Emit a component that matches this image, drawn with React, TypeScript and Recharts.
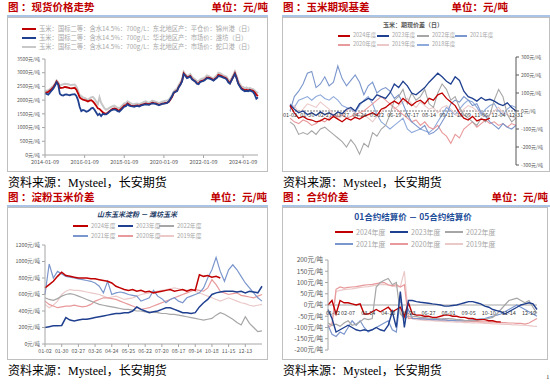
import { LineChart, Line, XAxis, YAxis, ReferenceLine } from "recharts";

const CJK = '"Noto Sans CJK SC", sans-serif';
const SERIF = '"Liberation Serif", "Noto Sans CJK SC", serif';
const HEAD_RED = "#c00000";

const YEAR_COLORS: Record<string, string> = {
  y2024: "#c00000",
  y2023: "#1f3f8f",
  y2022: "#a6a6a6",
  y2021: "#7b96cc",
  y2020: "#e8999b",
  y2019: "#ebc9c9",
  y2018: "#8ea9db",
};

// 现货价格走势, monthly from 2014-01 to 2024-10
const jinzhou = [
  2270, 2280, 2300, 2350, 2400, 2470, 2560, 2680, 2600, 2440, 2450, 2460,
  2480, 2470, 2460, 2440, 2430, 2440, 2450, 2380, 2250, 2100, 2050, 2020,
  2000, 1980, 1950, 1980, 2000, 1950, 1880, 1800, 1700, 1680, 1620, 1560,
  1520, 1500, 1540, 1600, 1640, 1680, 1700, 1680, 1640, 1620, 1680, 1740,
  1800, 1820, 1880, 1840, 1800, 1790, 1780, 1800, 1810, 1790, 1820, 1840,
  1860, 1880, 1860, 1850, 1880, 1910, 1890, 1880, 1860, 1830, 1850, 1870,
  1880, 1900, 1910, 1940, 2020, 2120, 2260, 2320, 2350, 2480, 2580, 2700,
  2980, 2900, 2830, 2850, 2880, 2780, 2730, 2680, 2620, 2600, 2680, 2700,
  2720, 2760, 2820, 2820, 2800, 2770, 2730, 2780, 2830, 2920, 2900, 2880,
  2840, 2820, 2780, 2680, 2620, 2740, 2860, 2980, 2820, 2620, 2520, 2430,
  2400, 2360, 2380, 2350, 2380, 2360, 2340, 2280, 2200, 2150,
];
const weifang = [
  2250, 2230, 2200, 2270, 2350, 2420, 2520, 2650, 2560, 2230, 2180, 2170,
  2200, 2210, 2190, 2180, 2200, 2210, 2220, 2150, 2000, 1750, 1600, 1640,
  1620, 1580, 1600, 1640, 1700, 1720, 1650, 1550, 1450, 1500, 1420, 1500,
  1480, 1480, 1520, 1580, 1620, 1650, 1660, 1640, 1600, 1580, 1640, 1700,
  1760, 1780, 1850, 1800, 1780, 1770, 1760, 1780, 1790, 1770, 1800, 1820,
  1840, 1850, 1840, 1830, 1860, 1880, 1870, 1860, 1840, 1810, 1840, 1860,
  1870, 1880, 1900, 1950, 2050, 2150, 2280, 2300, 2330, 2470, 2560, 2680,
  2950, 2880, 2800, 2830, 2860, 2760, 2720, 2680, 2600, 2580, 2660, 2680,
  2700, 2740, 2800, 2790, 2780, 2750, 2710, 2760, 2800, 2880, 2870, 2850,
  2820, 2800, 2760, 2650, 2600, 2720, 2840, 2950, 2800, 2600, 2500, 2400,
  2360, 2320, 2340, 2320, 2360, 2330, 2300, 2200, 2050, 2100,
];
const shekou = [
  2330, 2340, 2360, 2400, 2460, 2520, 2600, 2720, 2660, 2520, 2560, 2580,
  2600, 2590, 2580, 2560, 2550, 2560, 2570, 2500, 2350, 2180, 2150, 2100,
  2080, 2050, 2000, 2060, 2100, 2120, 2050, 1950, 1850, 2100, 1900, 1800,
  1700, 1650, 1680, 1720, 1750, 1780, 1800, 1760, 1720, 1700, 1760, 1820,
  1880, 1900, 1960, 1920, 1880, 1860, 1850, 1870, 1880, 1850, 1880, 1900,
  1940, 1960, 1920, 1900, 1940, 1980, 1960, 1940, 1920, 1900, 1920, 1940,
  1960, 1980, 1990, 2020, 2100, 2200, 2320, 2380, 2420, 2550, 2650, 2750,
  3030, 2950, 2880, 2900, 2950, 2850, 2800, 2750, 2700, 2680, 2750, 2780,
  2800, 2830, 2900, 2880, 2850, 2820, 2780, 2850, 2900, 3000, 2980, 2950,
  2900, 2880, 2850, 2750, 2700, 2800, 2920, 3050, 2900, 2700, 2600, 2500,
  2480, 2430, 2460, 2420, 2450, 2420, 2400, 2350, 2300, 2250,
];
const spotTicks = [0, 24, 48, 72, 96, 120];
const spotTickLabels = ["2014-01-09", "2016-01-09", "2018-01-09", "2020-01-09", "2022-01-09", "2024-01-09"];
const spotYTicks = [0, 500, 1000, 1500, 2000, 2500, 3000, 3500];
const spotLegend = [
  { key: "jz", color: "#c00000", label: "玉米：国标二等：含水14.5%：700g/L：东北地区产：平仓价：锦州港（日）" },
  { key: "wf", color: "#1f3f8f", label: "玉米：国标二等：含水14.5%：700g/L：华北地区产：市场价：潍坊（日）" },
  { key: "sk", color: "#c8c8c8", label: "玉米：国标二等：含水14.5%：700g/L：东北地区产：市场价：蛇口港（日）" },
];

// 玉米期现基差, weekly
const basis2024 = [30, -10, -40, -30, -45, -50, -60, -55, -40, -50, -30, -45, -60, -40, -50, -35, -45, -30, -20, -10, -25, 10, 20, 40, 55, 40, 70, 50, 30, 50, 60, 40, 70, 60, 90, 100, 70, 50, 30, -10, -40, -50, -30, -55, -45, -50, -40];
const basis2023 = [35, 10, -10, 0, -20, -10, -25, -5, -20, -10, -25, -5, -15, 10, 20, 0, 40, 55, 70, 60, 90, 80, 70, 100, 150, 130, 165, 140, 100, 90, 110, 130, 160, 185, 210, 190, 165, 150, 190, 170, 110, 80, 70, 55, 75, 60, 65, 55, 40, 30, 45, 20, 0];
const basis2022 = [-60, -80, -130, -120, -130, -110, -130, -100, -90, -110, -130, -150, -170, -200, -160, -190, -240, -180, -200, -120, -140, -100, -80, -20, 60, 80, 120, 40, 100, 60, 80, 120, 40, 20, 100, 150, 120, 60, 80, 20, -20, -40, -60, -80, -40, -60, -20, 60, 120, 80, -20, -60, -40];
const basis2021 = [0, 80, 110, 150, 210, 220, 130, 150, 190, 140, 160, 250, 180, 140, 170, 200, 160, 90, 140, 160, 100, 120, 130, 110, 70, 90, 40, -20, -60, -80, -100, -80, -130, -120, -100, -60, -20, 40, 60, 50, 80, 60, 30, 40, -10, -30, -60, -80, -100, -70, -90, -100, -80];
const basis2020 = [-40, -60, -70, -50, -60, -80, -70, -50, -60, -40, -20, -30, -20, -40, -30, -20, -10, 0, 20, 40, 60, 80, 60, 40, 20, 0, -20, -40, -60, -50, -80, -60, -90, -100, -80, -120, -140, -180, -130, -150, -100, -80, -60, -90, -70, -50, -70, -60, -80, -70, -90, -70, -80];
const basis2019 = [20, 30, -10, 10, 40, 30, 20, 50, 30, 10, -20, -40, -30, 0, 20, -10, -30, -20, -40, -60, -30, -10, 20, 40, 10, 30, 50, 70, 40, 20, 50, 30, 10, 20, -10, 20, 30, 10, -20, -30, 10, 30, 20, 0, -10, -30, -20, 0, 20, -10, -20, -30, -40];
const basis2018 = [40, 20, 60, 70, 80, 60, 80, 90, 70, 60, 80, 60, 30, 20, 10, -10, 30, 60, 80, 40, -20, -60, -80, -100, -80, -60, -40, -100, -120, -110, -100, -110, -120, -100, -60, -20, 20, 0, -20, 10, 40, 60, 50, 20, -20, 10, 30, 40, 0, -20, 10, 30, 20];
const basisTicks = [0, 4, 8, 12, 16, 20, 24, 28, 32, 36, 40, 44, 48, 52];
const basisTickLabels = ["01-02", "01-30", "02-27", "03-27", "04-24", "05-22", "06-19", "07-17", "08-14", "09-11", "10-09", "11-06", "12-04", "12-31"];
const basisYTicks = [-300, -200, -100, 0, 100, 200, 300];

// 淀粉玉米价差, weekly
const starch2024 = [680, 720, 760, 820, 870, 830, 820, 810, 800, 800, 800, 790, 790, 780, 770, 760, 740, 700, 680, 660, 650, 660, 640, 650, 630, 640, 620, 630, 640, 650, 660, 640, 650, 660, 640, 660, 650, 840, 820, 830, 810, 820, 800];
const starch2023 = [200, 210, 220, 220, 225, 320, 290, 280, 290, 300, 300, 310, 320, 330, 340, 350, 360, 370, 370, 380, 380, 400, 450, 420, 400, 380, 390, 400, 420, 440, 440, 420, 400, 380, 380, 370, 380, 450, 500, 540, 600, 620, 630, 640, 640, 640, 630, 640, 620, 640, 630, 620, 700];
const starch2022 = [560, 540, 530, 550, 580, 600, 610, 600, 580, 560, 540, 520, 500, 480, 470, 460, 450, 440, 430, 420, 420, 410, 400, 400, 390, 390, 385, 380, 370, 370, 360, 360, 350, 340, 330, 320, 310, 300, 290, 300, 310, 350, 380, 360, 330, 300, 260, 230, 330, 250, 200, 150, 160];
const starch2021 = [600, 970, 800, 880, 850, 820, 810, 800, 790, 780, 770, 760, 740, 700, 620, 760, 600, 620, 630, 620, 600, 590, 580, 520, 540, 560, 650, 580, 550, 500, 540, 560, 520, 500, 560, 580, 600, 620, 680, 800, 900, 1050, 880, 760, 900, 960, 900, 820, 740, 680, 620, 560, 520];
const starch2020 = [520, 480, 460, 440, 450, 460, 460, 470, 460, 450, 460, 480, 520, 540, 560, 560, 550, 540, 520, 500, 480, 460, 440, 420, 430, 440, 460, 480, 500, 520, 540, 560, 580, 600, 620, 640, 660, 650, 640, 680, 780, 720, 640, 620, 600, 610, 620, 590, 580, 570, 560, 580, 600];
const starch2019 = [480, 440, 470, 520, 600, 640, 660, 650, 650, 640, 630, 620, 610, 600, 580, 560, 570, 580, 560, 540, 550, 560, 580, 600, 610, 620, 630, 640, 650, 660, 670, 680, 670, 660, 650, 660, 640, 620, 600, 580, 560, 540, 520, 540, 560, 540, 520, 500, 490, 470, 460, 470, 480];
const starchTicks = [0, 4, 8, 12, 16, 20, 24, 28, 32, 36, 40, 44, 48];
const starchTickLabels = ["01-02", "01-30", "02-27", "03-26", "04-24", "05-25", "06-22", "07-20", "08-17", "09-14", "10-18", "11-15", "12-13"];
const starchYTicks = [0, 200, 400, 600, 800, 1000, 1200];

// 01合约 - 05合约, weekly
const spread2024 = [0, 20, -40, 20, 10, 10, 5, 0, 5, -40, -40, -30, -20, -30, -20, -10, -30, -20, -10, -50, 10, -40, -45, -45, -50, -50, -55, -55, -50, -45, -45, -50, -50, -55, -55, -60, -60, -65, -65, -65, -70, -70, -75, -75];
const spread2023 = [-20, -60, -120, -110, -100, -90, -100, -110, -115, -110, -115, -110, -100, -110, -115, -90, -30, -100, 60, -100, 20, 20, 15, 12, 10, 8, 5, 3, 0, -5, -5, -2, 0, 5, 10, 15, 15, 10, 5, -5, -10, -20, -25, -30, -40, -30, -20, -10, 0, 5, 10, 5, -20];
const spread2022 = [-80, -90, -85, -95, -80, -70, -90, -85, -75, -60, -65, -60, 80, 100, 110, 118, 90, 100, -40, -60, -50, -50, -52, -55, -55, -58, -60, -60, -62, -60, -60, -62, -65, -65, -68, -70, -70, -68, -65, -62, -60, -55, -40, -20, 0, 20, 25, 30, 20, 10, 20, -10, -37];
const spread2021 = [-90, -130, -140, -120, -130, -100, -70, -90, -70, -100, -120, -110, -100, -90, -80, -70, -110, -120, 30, -60, -20, -60, -60, -62, -62, -64, -65, -65, -66, -66, -68, -68, -70, -70, -70, -68, -66, -64, -62, -60, -55, -50, -45, -40, -30, -20, -10, 0, -10, -20, -30, -40, -50];
const spread2020 = [-100, -90, 70, 80, 75, 78, 80, 82, 85, 88, 90, 92, 95, 98, 100, 90, 85, 90, 80, 90, -60, -58, -60, -62, -62, -64, -65, -65, -66, -66, -68, -68, -70, -70, -72, -72, -74, -74, -75, -75, -75, -76, -76, -78, -78, -80, -80, -82, -82, -85, -80, -70, -60];
const spread2019 = [-95, -80, 60, 65, 68, 70, 72, 75, 78, 80, 82, 85, 88, 90, 92, 88, 85, 80, 82, 150, -50, -62, -65, -66, -68, -70, -70, -72, -72, -74, -74, -75, -76, -76, -78, -78, -80, -80, -80, -82, -82, -84, -84, -85, -86, -86, -88, -88, -90, -90, -92, -94, -95];
const spreadTicks = [0, 5, 10, 15, 20, 25, 30, 35, 40, 45, 50];
const spreadTickLabels = ["01-02", "02-07", "03-14", "04-18", "05-23", "06-27", "08-01", "09-05", "10-10", "11-14", "12-19"];
const spreadYTicks = [-200, -150, -100, -50, 0, 50, 100, 150, 200];

function buildRows(series: Record<string, number[]>, xKey: string) {
  const n = Math.max(...Object.values(series).map((s) => s.length));
  return Array.from({ length: n }, (_, i) => {
    const r: Record<string, number> = { [xKey]: i };
    for (const k in series) if (i < series[k].length) r[k] = series[k][i];
    return r;
  });
}

const spotRows = buildRows({ jz: jinzhou, wf: weifang, sk: shekou }, "i");
const basisRows = buildRows(
  { y2024: basis2024, y2023: basis2023, y2022: basis2022, y2021: basis2021, y2020: basis2020, y2019: basis2019, y2018: basis2018 },
  "w"
);
const starchRows = buildRows(
  { y2024: starch2024, y2023: starch2023, y2022: starch2022, y2021: starch2021, y2020: starch2020, y2019: starch2019 },
  "w"
);
const spreadRows = buildRows(
  { y2024: spread2024, y2023: spread2023, y2022: spread2022, y2021: spread2021, y2020: spread2020, y2019: spread2019 },
  "w"
);

const unit = (v: number) => `${v}元/吨`;

// date labels drawn along the zero line (axis crosses at 0); first one nudged off the y axis labels
function zeroTick(ticks: number[], labels: string[], baseline: number, size: number, firstNudge = 0) {
  return (p: any) => {
    const v = p.payload?.value;
    const i = ticks.indexOf(v);
    return (
      <text x={p.x + (i === 0 ? firstNudge : 0)} y={baseline} textAnchor="middle" fontSize={size} fill="#404040" fontFamily={CJK}>
        {i >= 0 ? labels[i] : ""}
      </text>
    );
  };
}

function Frame({ x, y, boxW, boxH, lineW, title, unitRight }: {
  x: number; y: number; boxW: number; boxH: number; lineW: number; title: string; unitRight: number;
}) {
  const head = { position: "absolute" as const, top: y, fontSize: 10.5, lineHeight: "14px", fontWeight: 700, color: HEAD_RED, fontFamily: CJK, whiteSpace: "nowrap" as const };
  return (
    <>
      <div style={{ ...head, left: x + 1 }}>{title}</div>
      <div style={{ ...head, left: unitRight - 80, width: 80, textAlign: "right" }}>单位：元/吨</div>
      <div style={{ position: "absolute", left: x, top: y + 15, width: lineW, height: 2, background: "#a9c4e4" }} />
      <div style={{ position: "absolute", left: x, top: y + 17, width: boxW, height: boxH, border: "1px solid #bfbfbf", boxSizing: "border-box" }} />
      <div style={{ position: "absolute", left: x + 1, top: y + 17 + boxH + 4, fontSize: 12, lineHeight: "14px", color: "#000", fontFamily: SERIF, whiteSpace: "nowrap" }}>
        资料来源：Mysteel，长安期货
      </div>
    </>
  );
}

function Key({ x, y, color, label, lineW, size, thick = 2 }: {
  x: number; y: number; color: string; label: string; lineW: number; size: number; thick?: number;
}) {
  return (
    <div style={{ position: "absolute", left: x, top: y - 6, height: 12, display: "flex", alignItems: "center", whiteSpace: "nowrap" }}>
      <span style={{ width: lineW, height: thick, background: color, marginRight: 3 }} />
      <span style={{ fontSize: size, color: "#a6a6a6", fontFamily: CJK, lineHeight: 1 }}>{label}</span>
    </div>
  );
}

function YearKeys({ rows, xs, ys, lineW, size }: { rows: string[][]; xs: number[]; ys: number[]; lineW: number; size: number }) {
  return (
    <>
      {rows.map((row, r) =>
        row.map((k, c) => (
          <Key key={k} x={xs[c]} y={ys[r]} color={YEAR_COLORS[k]} label={`${k.slice(1)}年度`} lineW={lineW} size={size} />
        ))
      )}
    </>
  );
}

const axisTick = (size: number) => ({ fontSize: size, fill: "#595959", fontFamily: CJK });

export default function App() {
  return (
    <div style={{ position: "absolute", left: 0, top: 0, width: 550, height: 386, background: "#fff", overflow: "hidden" }}>
      {/* 现货价格走势 */}
      <Frame x={7} y={0} boxW={261} boxH={155} lineW={261} title="图 ：现货价格走势" unitRight={268} />
      {spotLegend.map((s, i) => (
        <Key key={s.key} x={22} y={29 + i * 9} color={s.color} label={s.label} lineW={14} size={6.3} />
      ))}
      <div style={{ position: "absolute", left: 7, top: 17 }}>
        <LineChart width={260} height={155} data={spotRows} margin={{ top: 42, right: 9, bottom: 0, left: 0 }}>
          <XAxis
            dataKey="i"
            type="number"
            domain={[0, 129]}
            ticks={spotTicks}
            interval={0}
            height={17}
            tickSize={3}
            tickFormatter={(v: number) => spotTickLabels[spotTicks.indexOf(v)]}
            tick={axisTick(5.5)}
            axisLine={{ stroke: "#a6a6a6" }}
            tickLine={{ stroke: "#a6a6a6" }}
          />
          <YAxis
            domain={[0, 3500]}
            ticks={spotYTicks}
            interval={0}
            width={38}
            tickSize={3}
            tickFormatter={unit}
            tick={axisTick(5)}
            axisLine={{ stroke: "#a6a6a6" }}
            tickLine={{ stroke: "#a6a6a6" }}
          />
          <Line dataKey="sk" stroke="#c8c8c8" strokeWidth={2} dot={false} isAnimationActive={false} />
          <Line dataKey="jz" stroke="#c00000" strokeWidth={1.8} dot={false} isAnimationActive={false} />
          <Line dataKey="wf" stroke="#1f3f8f" strokeWidth={1.8} dot={false} isAnimationActive={false} />
        </LineChart>
      </div>

      {/* 玉米期现基差 */}
      <Frame x={282} y={0} boxW={268} boxH={155} lineW={268} title="图 ：玉米期现基差" unitRight={508} />
      <div style={{ position: "absolute", left: 343, width: 140, top: 20, textAlign: "center", fontSize: 6, fontWeight: 700, color: "#595959", fontFamily: CJK }}>
        玉米：期现价差（日）
      </div>
      <YearKeys rows={[["y2024", "y2023", "y2022", "y2021"], ["y2020", "y2019", "y2018"]]} xs={[338, 377, 417, 455]} ys={[36, 45]} lineW={12} size={5.5} />
      <div style={{ position: "absolute", left: 282, top: 17 }}>
        <LineChart width={268} height={155} data={basisRows} margin={{ top: 40, right: 0, bottom: 0, left: 8 }}>
          <XAxis
            dataKey="w"
            type="number"
            domain={[0, 52]}
            ticks={basisTicks}
            interval={0}
            height={7}
            tickSize={0}
            axisLine={false}
            tick={zeroTick(basisTicks, basisTickLabels, 100, 5.5)}
          />
          <YAxis
            orientation="right"
            domain={[-300, 300]}
            ticks={basisYTicks}
            interval={0}
            width={34}
            tickSize={3}
            tickFormatter={unit}
            tick={axisTick(5)}
            axisLine={{ stroke: "#595959" }}
            tickLine={{ stroke: "#595959" }}
          />
          <ReferenceLine y={0} stroke="#7f7f7f" strokeDasharray="2 1" />
          {["y2018", "y2019", "y2020", "y2021", "y2022", "y2023", "y2024"].map((k) => (
            <Line key={k} dataKey={k} stroke={YEAR_COLORS[k]} strokeWidth={k === "y2023" || k === "y2024" ? 1.3 : 1.1} dot={false} isAnimationActive={false} />
          ))}
        </LineChart>
      </div>

      {/* 淀粉玉米价差 */}
      <Frame x={7} y={190} boxW={261} boxH={153} lineW={261} title="图 ：淀粉玉米价差" unitRight={267} />
      <div style={{ position: "absolute", left: 57, width: 160, top: 209, textAlign: "center", fontSize: 7, fontWeight: 700, fontStyle: "italic", color: "#203864", fontFamily: CJK }}>
        山东玉米淀粉 － 潍坊玉米
      </div>
      <YearKeys rows={[["y2024", "y2023", "y2022"], ["y2021", "y2020", "y2019"]]} xs={[73, 118, 159]} ys={[226, 236]} lineW={15} size={5.8} />
      <div style={{ position: "absolute", left: 7, top: 207 }}>
        <LineChart width={260} height={153} data={starchRows} margin={{ top: 38, right: 5, bottom: 0, left: 0 }}>
          <XAxis
            dataKey="w"
            type="number"
            domain={[0, 52]}
            ticks={starchTicks}
            interval={0}
            height={16}
            tickSize={3}
            tickFormatter={(v: number) => starchTickLabels[starchTicks.indexOf(v)]}
            tick={axisTick(5.3)}
            axisLine={{ stroke: "#a6a6a6" }}
            tickLine={{ stroke: "#a6a6a6" }}
          />
          <YAxis
            domain={[0, 1200]}
            ticks={starchYTicks}
            interval={0}
            width={38}
            tickSize={3}
            tickFormatter={unit}
            tick={axisTick(5.3)}
            axisLine={{ stroke: "#a6a6a6" }}
            tickLine={{ stroke: "#a6a6a6" }}
          />
          {["y2019", "y2020", "y2021", "y2022", "y2023", "y2024"].map((k) => (
            <Line key={k} dataKey={k} stroke={YEAR_COLORS[k]} strokeWidth={k === "y2023" || k === "y2024" ? 1.5 : 1.2} dot={false} isAnimationActive={false} />
          ))}
        </LineChart>
      </div>

      {/* 合约价差 */}
      <Frame x={282} y={190} boxW={266} boxH={153} lineW={268} title="图 ：合约价差" unitRight={548} />
      <div style={{ position: "absolute", left: 323, width: 180, top: 210, textAlign: "center", fontSize: 8.5, fontWeight: 700, color: "#1f4e9a", fontFamily: CJK }}>
        01合约结算价 － 05合约结算价
      </div>
      <YearKeys rows={[["y2024", "y2023", "y2022"], ["y2021", "y2020", "y2019"]]} xs={[335, 390, 445]} ys={[232, 244]} lineW={18} size={7} />
      <div style={{ position: "absolute", left: 282, top: 207 }}>
        <LineChart width={266} height={153} data={spreadRows} margin={{ top: 53, right: 11, bottom: 0, left: 0 }}>
          <XAxis
            dataKey="w"
            type="number"
            domain={[0, 52]}
            ticks={spreadTicks}
            interval={0}
            height={10}
            tickSize={0}
            axisLine={false}
            tick={zeroTick(spreadTicks, spreadTickLabels, 108, 5.5, 5)}
          />
          <YAxis
            domain={[-200, 200]}
            ticks={spreadYTicks}
            interval={0}
            width={46}
            tickSize={3}
            tickFormatter={unit}
            tick={axisTick(6.5)}
            axisLine={{ stroke: "#a6a6a6" }}
            tickLine={{ stroke: "#a6a6a6" }}
          />
          <ReferenceLine y={0} stroke="#a6a6a6" />
          {["y2019", "y2020", "y2021", "y2022", "y2024", "y2023"].map((k) => (
            <Line key={k} dataKey={k} stroke={YEAR_COLORS[k]} strokeWidth={k === "y2023" || k === "y2024" ? 1.4 : 1.2} dot={false} isAnimationActive={false} />
          ))}
        </LineChart>
      </div>
      <div style={{ position: "absolute", left: 546, top: 373, fontSize: 7, color: "#404040", fontFamily: SERIF }}>1</div>
    </div>
  );
}
